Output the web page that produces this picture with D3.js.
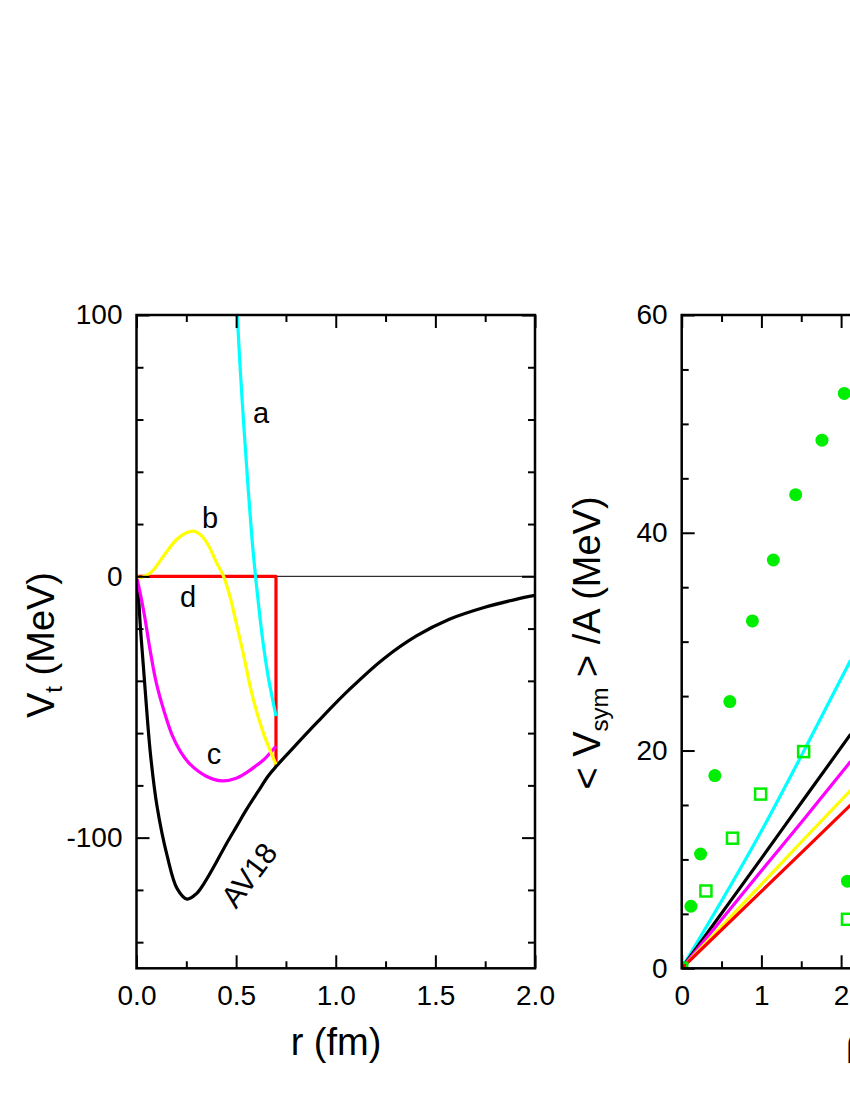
<!DOCTYPE html>
<html>
<head>
<meta charset="utf-8">
<script src="https://cdn.jsdelivr.net/npm/d3@7"></script>
<style>
  body { margin: 0; background: #fff; }
  text { font-family: "Liberation Sans", Arial, sans-serif; fill: #000; }
</style>
</head>
<body>
<div id="chart"></div>
<script>
// ---- Left panel: V_t(r) curves (r in fm, V in MeV) ----
const rAV18 = [0, 0.01, 0.02, 0.03, 0.045, 0.07, 0.103, 0.154, 0.204, 0.254, 0.30, 0.343, 0.40, 0.45, 0.504, 0.55, 0.613, 0.66, 0.704, 0.77, 0.905, 1.07, 1.238, 1.405, 1.57, 1.74, 1.905, 2.0];
const vAV18 = [0, -8, -20, -30, -45, -68, -88, -107, -119.5, -123.5, -121.5, -117, -109.5, -102.5, -95.5, -89.5, -82, -76.5, -72.5, -67, -56, -43.2, -31.7, -22.8, -16.4, -12, -8.8, -7.3];

const rA = [0.506, 0.52, 0.54, 0.56, 0.58, 0.60, 0.62, 0.64, 0.66, 0.68, 0.70];
const vA = [100, 80, 56, 34, 14, -2, -16, -28, -38, -46, -53.5];

const rB = [0, 0.02, 0.04, 0.08, 0.136, 0.2, 0.25, 0.287, 0.32, 0.36, 0.4, 0.437, 0.47, 0.504, 0.54, 0.57, 0.6, 0.637, 0.67, 0.70];
const vB = [0, -0.5, 0, 2, 7.8, 14, 16.7, 17.3, 16, 12, 5.5, 0, -8, -19, -31, -42, -51, -60, -66.5, -72];

const rC = [0, 0.02, 0.04, 0.07, 0.1, 0.14, 0.18, 0.22, 0.27, 0.35, 0.43, 0.5, 0.554, 0.6, 0.637, 0.70];
const vC = [0, -7, -15, -29, -41, -52, -61, -67, -72, -76.5, -78.3, -77.3, -75, -72.5, -70.3, -65];

const rD = [0, 0.7, 0.7];
const vD = [0, 0, -72.5];

// ---- Right panel: <V_sym>/A vs density ----
const rhoGrid = [0, 1, 1.5, 2.12];
const symCyan    = [0, 12.6, 19.5, 28.3];
const symBlack   = [0, 10.1, 15.2, 21.5];
const symMagenta = [0, 8.95, 13.4, 19.0];
const symYellow  = [0, 7.7, 11.6, 16.35];
const symRed     = [0, 7.06, 10.6, 15.0];

const dotsX = [0.116, 0.237, 0.416, 0.604, 0.887, 1.15, 1.43, 1.76, 2.04, 2.08];
const dotsY = [5.7, 10.5, 17.7, 24.5, 31.9, 37.5, 43.5, 48.5, 52.8, 8.0];
const boxX = [0, 0.304, 0.637, 0.99, 1.53, 2.08];
const boxY = [0, 7.1, 11.95, 16.0, 19.9, 4.5];

// tick values
const leftMajorX = [0, 0.5, 1.0, 1.5, 2.0];
const leftMinorX = [0.25, 0.75, 1.25, 1.75];
const leftMajorY = [-100, 0, 100];
const leftMinorY = [-140, -120, -80, -60, -40, -20, 20, 40, 60, 80];
const rightMajorX = [0, 1, 2, 3, 4, 5];
const rightMinorX = [0.5, 1.5, 2.5, 3.5, 4.5];
const rightMajorY = [0, 20, 40, 60];
const rightMinorY = [5, 10, 15, 25, 30, 35, 45, 50, 55];

const width = 850, height = 1100;
const svg = d3.select("#chart").append("svg")
    .attr("width", width)
    .attr("height", height)
    .style("display", "block");

svg.append("rect").attr("width", width).attr("height", height).attr("fill", "#fff");

// Scales
const xL = d3.scaleLinear().domain([0, 2]).range([136.5, 535]);
const yL = d3.scaleLinear().domain([-150, 100]).range([968.3, 315]);
const xR = d3.scaleLinear().domain([0, 5]).range([681.7, 1080.2]);
const yR = d3.scaleLinear().domain([0, 60]).range([968.3, 315]);

const defs = svg.append("defs");

// frame + ticks on all four sides, ticks pointing inward
function drawFrame(x, y, majX, minX, majY, minY, fmtX, fmtY, id) {
    const [x0, x1] = x.range(), [y1, y0] = y.range();

    defs.append("clipPath").attr("id", id)
      .append("rect").attr("x", x0).attr("y", y0).attr("width", x1 - x0).attr("height", y1 - y0);

    const g = svg.append("g").attr("class", "frame");
    g.append("g").attr("transform", `translate(0,${y1})`)
        .call(d3.axisBottom(x).tickValues(majX).tickSize(-13).tickPadding(17).tickFormat(fmtX));
    g.append("g").attr("transform", `translate(0,${y1})`)
        .call(d3.axisBottom(x).tickValues(minX).tickSize(-7).tickFormat(""));
    g.append("g").attr("transform", `translate(0,${y0})`)
        .call(d3.axisTop(x).tickValues(majX).tickSize(-13).tickFormat(""));
    g.append("g").attr("transform", `translate(0,${y0})`)
        .call(d3.axisTop(x).tickValues(minX).tickSize(-7).tickFormat(""));
    g.append("g").attr("transform", `translate(${x0},0)`)
        .call(d3.axisLeft(y).tickValues(majY).tickSize(-13).tickPadding(14).tickFormat(fmtY));
    g.append("g").attr("transform", `translate(${x0},0)`)
        .call(d3.axisLeft(y).tickValues(minY).tickSize(-7).tickFormat(""));
    g.append("g").attr("transform", `translate(${x1},0)`)
        .call(d3.axisRight(y).tickValues(majY).tickSize(-13).tickFormat(""));
    g.append("g").attr("transform", `translate(${x1},0)`)
        .call(d3.axisRight(y).tickValues(minY).tickSize(-7).tickFormat(""));

    g.selectAll(".domain").remove();
    g.selectAll(".tick line").attr("stroke", "#000").attr("stroke-width", 2);
    g.selectAll(".tick text").attr("font-size", 28).attr("font-family", '"Liberation Sans", Arial, sans-serif');
    // drop labels that fall past the page edge
    g.selectAll(".tick text").filter(function () { return this.textContent === ""; }).remove();

    g.append("rect")
        .attr("x", x0).attr("y", y0)
        .attr("width", x1 - x0).attr("height", y1 - y0)
        .attr("fill", "none").attr("stroke", "#000").attr("stroke-width", 2.5);
}

// ---------- Left panel ----------
const plotL = svg.append("g").attr("clip-path", "url(#clipL)");

// zero reference line
plotL.append("line")
    .attr("x1", xL(0)).attr("x2", xL(2))
    .attr("y1", yL(0)).attr("y2", yL(0))
    .attr("stroke", "#000").attr("stroke-width", 1);

const lineL = d3.line()
    .x(d => xL(d[0]))
    .y(d => yL(d[1]));

const leftCurves = [
    {r: rD, v: vD, color: "#ff0000", curve: d3.curveLinear},
    {r: rAV18, v: vAV18, color: "#000000"},
    {r: rC, v: vC, color: "#ff00ff"},
    {r: rB, v: vB, color: "#ffff00"},
    {r: rA, v: vA, color: "#00ffff"}
];

leftCurves.forEach(c => {
    const pts = c.r.map((r, i) => [r, c.v[i]]);
    plotL.append("path")
        .attr("d", lineL.curve(c.curve || d3.curveCatmullRom.alpha(0.5))(pts))
        .attr("fill", "none")
        .attr("stroke", c.color)
        .attr("stroke-width", 3.2)
        .attr("stroke-linejoin", "round");
});

drawFrame(xL, yL, leftMajorX, leftMinorX, leftMajorY, leftMinorY,
    d3.format(".1f"), d => String(d), "clipL");

// curve labels
const labels = [
    {t: "a", x: 261, y: 413},
    {t: "b", x: 210, y: 518},
    {t: "d", x: 188, y: 597},
    {t: "c", x: 214, y: 754}
];
svg.append("g").selectAll("text")
    .data(labels)
    .enter().append("text")
    .attr("x", d => d.x).attr("y", d => d.y)
    .attr("text-anchor", "middle")
    .attr("dominant-baseline", "central")
    .attr("font-size", 29)
    .text(d => d.t);

svg.append("text")
    .attr("transform", "translate(249,875) rotate(-53)")
    .attr("text-anchor", "middle")
    .attr("dominant-baseline", "central")
    .attr("font-size", 30)
    .text("AV18");

// axis titles
svg.append("text")
    .attr("x", 336).attr("y", 1055)
    .attr("text-anchor", "middle")
    .attr("font-size", 38)
    .text("r (fm)");

const tL = svg.append("text")
    .attr("transform", "translate(54,645) rotate(-90)")
    .attr("text-anchor", "middle")
    .attr("font-size", 38);
tL.append("tspan").text("V");
tL.append("tspan").attr("font-size", 24).attr("dy", 8).text("t");
tL.append("tspan").attr("dy", -8).text(" (MeV)");

// ---------- Right panel ----------
const plotR = svg.append("g").attr("clip-path", "url(#clipR)");

const lineR = d3.line()
    .x(d => xR(d[0]))
    .y(d => yR(d[1]))
    .curve(d3.curveMonotoneX);

const rightLines = [
    {v: symCyan, color: "#00ffff"},
    {v: symBlack, color: "#000000"},
    {v: symMagenta, color: "#ff00ff"},
    {v: symYellow, color: "#ffff00"},
    {v: symRed, color: "#ff0000"}
];
rightLines.forEach(l => {
    plotR.append("path")
        .attr("d", lineR(rhoGrid.map((r, i) => [r, l.v[i]])))
        .attr("fill", "none")
        .attr("stroke", l.color)
        .attr("stroke-width", 3.2);
});

// open squares
plotR.append("g").selectAll("rect")
    .data(boxX.map((x, i) => [x, boxY[i]]))
    .enter().append("rect")
    .attr("x", d => xR(d[0]) - 5.5)
    .attr("y", d => yR(d[1]) - 5.5)
    .attr("width", 11).attr("height", 11)
    .attr("fill", "none")
    .attr("stroke", "#00ee00")
    .attr("stroke-width", 2.5);

// filled circles
plotR.append("g").selectAll("circle")
    .data(dotsX.map((x, i) => [x, dotsY[i]]))
    .enter().append("circle")
    .attr("cx", d => xR(d[0]))
    .attr("cy", d => yR(d[1]))
    .attr("r", 6.5)
    .attr("fill", "#00ee00");

// labels past x = 2 sit outside the page, leave them blank
drawFrame(xR, yR, rightMajorX, rightMinorX, rightMajorY, rightMinorY,
    d => (xR(d) < width ? String(d) : ""), d => String(d), "clipR");

const tR = svg.append("text")
    .attr("transform", "translate(600,643) rotate(-90)")
    .attr("text-anchor", "middle")
    .attr("font-size", 38);
tR.append("tspan").text("< V");
tR.append("tspan").attr("font-size", 24).attr("dy", 8).text("sym");
tR.append("tspan").attr("dy", -8).text(" > /A (MeV)");

const tX = svg.append("text")
    .attr("x", 846).attr("y", 1055)
    .attr("text-anchor", "start")
    .attr("font-size", 38);
tX.append("tspan").text("ρ/ρ");
tX.append("tspan").attr("font-size", 24).attr("dy", 8).text("0");
</script>
</body>
</html>
